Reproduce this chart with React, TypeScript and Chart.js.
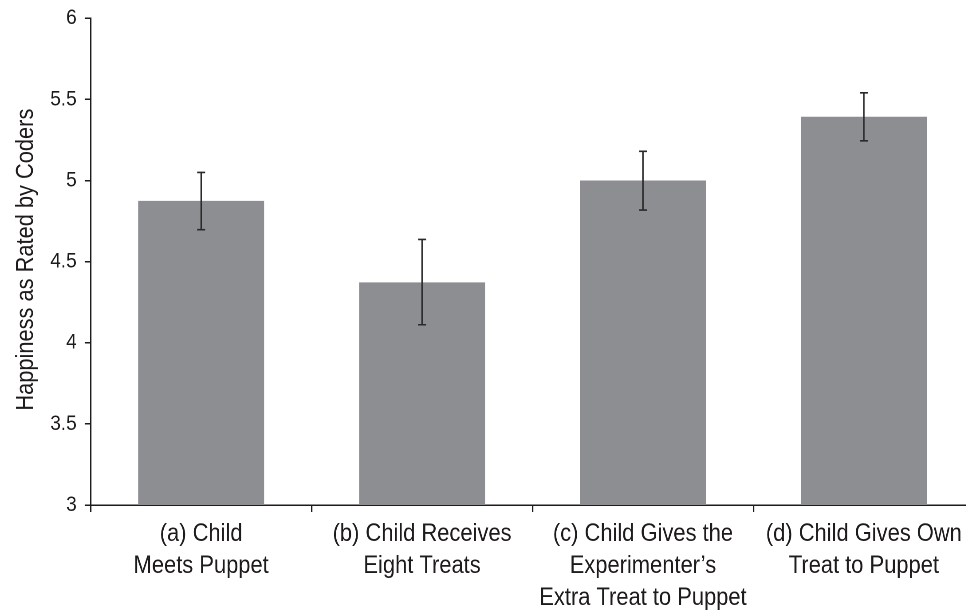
import React, { useEffect, useRef } from "react";
import { Chart, registerables } from "chart.js";

Chart.register(...registerables);

const categories: string[][] = [
  ["(a) Child", "Meets Puppet"],
  ["(b) Child Receives", "Eight Treats"],
  ["(c) Child Gives the", "Experimenter\u2019s", "Extra Treat to Puppet"],
  ["(d) Child Gives Own", "Treat to Puppet"],
];
const means: number[] = [4.875, 4.372, 5.0, 5.393];
const errUpper: number[] = [5.05, 4.637, 5.18, 5.541];
const errLower: number[] = [4.697, 4.111, 4.818, 5.245];
const yTitle = "Happiness as Rated by Coders";

// The canvas is drawn wider than it is shown, so the Liberation Sans text
// appears condensed like the reference's narrow face.
const SHOW_W = 976;
const DRAW_W = 1100;
const F = SHOW_W / DRAW_W;

const FONT = "'Liberation Sans', Arial, sans-serif";
const INK = "#1e1b1c";

const errorBarPlugin = {
  id: "errorBars",
  afterDatasetsDraw(chart: any) {
    const ctx = chart.ctx;
    const meta = chart.getDatasetMeta(0);
    const yScale = chart.scales.y;
    const half = 4 / F;
    ctx.save();
    ctx.strokeStyle = "#2a2a2a";
    ctx.lineWidth = 1.6;
    meta.data.forEach((bar: any, i: number) => {
      const x = bar.x;
      const yT = yScale.getPixelForValue(errUpper[i]);
      const yB = yScale.getPixelForValue(errLower[i]);
      ctx.beginPath();
      ctx.moveTo(x, yT);
      ctx.lineTo(x, yB);
      ctx.moveTo(x - half, yT);
      ctx.lineTo(x + half, yT);
      ctx.moveTo(x - half, yB);
      ctx.lineTo(x + half, yB);
      ctx.stroke();
    });
    ctx.restore();
  },
};

// Condensed, rotated y-axis title (length condensed, glyph height kept).
const yTitlePlugin = {
  id: "yTitleCondensed",
  afterDraw(chart: any) {
    const ctx = chart.ctx;
    const area = chart.chartArea;
    const cx = 33 / F;
    const cy = (area.top + area.bottom) / 2 - 2;
    ctx.save();
    ctx.translate(cx, cy);
    ctx.rotate(-Math.PI / 2);
    ctx.scale(F, 1 / F);
    ctx.fillStyle = INK;
    ctx.font = `24.6px ${FONT}`;
    ctx.textAlign = "center";
    ctx.textBaseline = "alphabetic";
    ctx.fillText(yTitle, 0, 0);
    ctx.restore();
  },
};

export default function App() {
  const ref = useRef<HTMLCanvasElement | null>(null);
  useEffect(() => {
    if (!ref.current) return;
    const chart = new Chart(ref.current, {
      type: "bar",
      data: {
        labels: categories,
        datasets: [
          {
            data: means,
            backgroundColor: "#8d8e92",
            borderWidth: 0,
            categoryPercentage: 1,
            barPercentage: 0.57,
          },
        ],
      },
      options: {
        responsive: false,
        animation: false,
        devicePixelRatio: 2,
        layout: { padding: { top: 18.3, right: DRAW_W - 974.3 / F, bottom: 0, left: 0 } },
        plugins: {
          legend: { display: false },
          tooltip: { enabled: false },
        },
        scales: {
          x: {
            offset: true,
            grid: {
              offset: true,
              drawOnChartArea: false,
              drawTicks: true,
              tickLength: 7,
              color: INK,
              lineWidth: 1.6,
            },
            border: { display: true, color: INK, width: 1.5 },
            ticks: {
              color: INK,
              font: { family: FONT, size: 24.7, lineHeight: 1.3 },
              padding: 6,
              maxRotation: 0,
              autoSkip: false,
            },
            afterFit: (scale: any) => {
              scale.height = 106;
            },
          },
          y: {
            min: 3,
            max: 6,
            grid: {
              drawOnChartArea: false,
              drawTicks: true,
              tickLength: 6 / F,
              color: INK,
              lineWidth: 1.5,
            },
            border: { display: true, color: INK, width: 1.6 },
            ticks: {
              stepSize: 0.5,
              color: INK,
              font: { family: FONT, size: 21.5 },
              padding: 9,
              callback: (v: any) => String(Number(v)),
            },
            title: { display: false },
            afterFit: (scale: any) => {
              scale.width = 90.7 / F;
              scale.paddingTop = 0;
              scale.paddingBottom = 0;
            },
          },
        },
      },
      plugins: [errorBarPlugin, yTitlePlugin],
    });
    return () => chart.destroy();
  }, []);

  return (
    <div
      style={{
        position: "fixed",
        left: 0,
        top: 0,
        width: 966,
        height: 611,
        overflow: "hidden",
        background: "#fff",
      }}
    >
      <canvas
        ref={ref}
        width={DRAW_W}
        height={611}
        style={{ width: SHOW_W, height: 611, display: "block" }}
      />
    </div>
  );
}
